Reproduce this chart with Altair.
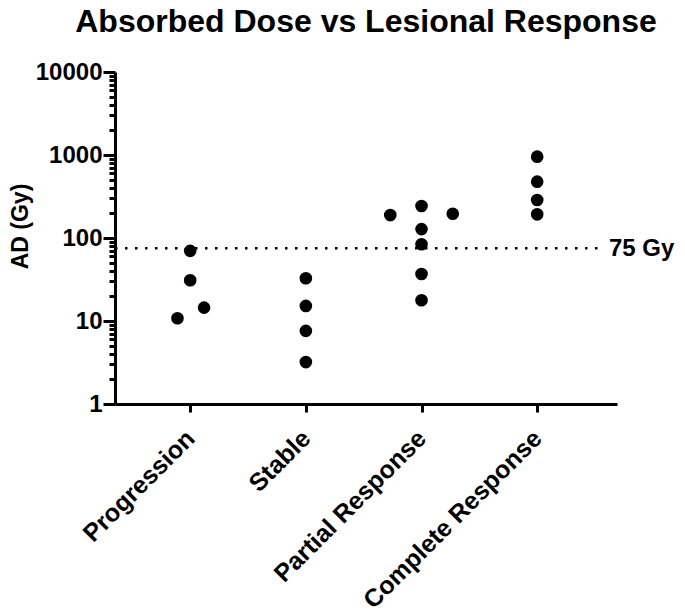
import json
import altair as alt
import pandas as pd

# ---- data ----
categories = ["Progression", "Stable", "Partial Response", "Complete Response"]

point_category = [
    "Progression", "Progression", "Progression", "Progression",
    "Stable", "Stable", "Stable", "Stable",
    "Partial Response", "Partial Response", "Partial Response", "Partial Response",
    "Partial Response", "Partial Response", "Partial Response",
    "Complete Response", "Complete Response", "Complete Response", "Complete Response",
]
point_dose = [
    70, 31, 14.5, 10.8,
    32.7, 15.2, 7.6, 3.2,
    189, 243, 128, 84, 196, 36.8, 17.8,
    954, 477, 287, 193,
]
# horizontal scatter of the dots, in category units
point_jitter = [
    0, 0, 0.12, -0.11,
    0, 0, 0, 0,
    -0.27, 0, 0, 0, 0.27, 0, 0,
    0, 0, 0, 0,
]

threshold_value = [75]
threshold_label = ["75 Gy"]

y_major_ticks = [1, 10, 100, 1000, 10000]
y_minor_multipliers = [1, 2, 3, 4, 5, 6, 7, 8, 9]

# ---- tables ----
cat_index = {c: i + 1 for i, c in enumerate(categories)}
points = pd.DataFrame({"category": point_category, "dose": point_dose, "jitter": point_jitter})
points["pos"] = points["category"].map(cat_index) + points["jitter"]

x_min, x_max = 0.35, 4.69
ref = pd.DataFrame({
    "dose": threshold_value,
    "label": threshold_label,
    "x0": [x_min],
    "x1": [4.57],
    "xt": [4.62],
})

y_values = [m * d for d in y_major_ticks[:-1] for m in y_minor_multipliers] + [y_major_ticks[-1]]
major_js = json.dumps(y_major_ticks)
is_major = f"indexof({major_js}, datum.value) >= 0"

xscale = alt.Scale(domain=[x_min, x_max], nice=False, zero=False)
yscale = alt.Scale(type="log", domain=[1, 10000], nice=False)

FONT = "Liberation Sans"

x_axis = alt.Axis(
    values=[1, 2, 3, 4],
    labelExpr=f"{json.dumps(categories)}[datum.value - 1]",
    labelAngle=315,
    labelAlign="right",
    labelBaseline="middle",
    labelFontSize=25,
    labelPadding=22,
    labelOverlap=False,
    labelLimit=500,
    tickSize=8,
    grid=False,
    title=None,
)

y_axis = alt.Axis(
    values=y_values,
    labelExpr=f"{is_major} ? format(datum.value, 'd') : ''",
    labelOverlap=False,
    labelFontSize=24,
    labelPadding=1,
    tickSize={"condition": {"test": is_major, "value": 12}, "value": 6},
    grid=False,
    title="AD (Gy)",
    titleFontSize=23,
    titleX=-88,
    titleY=154,
    titleBaseline="alphabetic",
)

dots = alt.Chart(points).mark_circle(size=160, color="black", opacity=1).encode(
    x=alt.X("pos:Q", scale=xscale, axis=x_axis),
    y=alt.Y("dose:Q", scale=yscale, axis=y_axis),
)

rule = alt.Chart(ref).mark_rule(
    color="black", strokeWidth=2.5, strokeDash=[2.5, 7.5]
).encode(
    x=alt.X("x0:Q", scale=xscale),
    x2="x1:Q",
    y=alt.Y("dose:Q", scale=yscale),
)

label = alt.Chart(ref).mark_text(
    align="left", baseline="middle", font=FONT, fontWeight="bold", fontSize=24,
    color="black", dy=1,
).encode(
    x=alt.X("xt:Q", scale=xscale),
    y=alt.Y("dose:Q", scale=yscale),
    text="label:N",
)

chart = (
    alt.layer(rule, dots, label)
    .properties(
        width=502,
        height=332,
        autosize="none",
        padding={"left": 107, "top": 64, "right": 60, "bottom": 215},
        title=alt.TitleParams(
            text="Absorbed Dose vs Lesional Response",
            font=FONT, fontSize=32, fontWeight="bold", color="black",
            anchor="middle", frame="group", offset=10, baseline="bottom", dy=21,
        ),
    )
    .configure_view(stroke=None)
    .configure_axis(
        domainColor="black", domainWidth=3, tickColor="black", tickWidth=3,
        labelColor="black", labelFont=FONT, labelFontWeight="bold",
        titleColor="black", titleFont=FONT, titleFontWeight="bold",
    )
)

chart.save("out.html", embed_options={"renderer": "svg", "actions": False})
